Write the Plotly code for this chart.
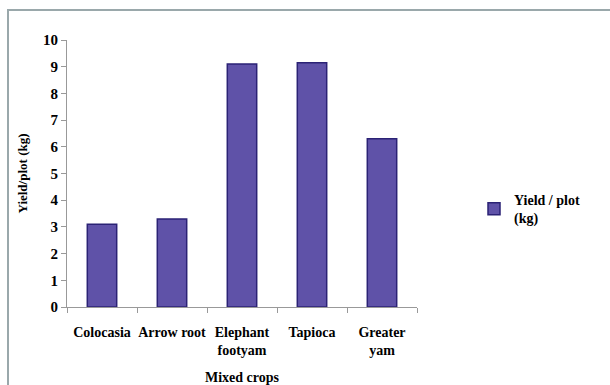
import plotly.graph_objects as go

# Yield per plot for each crop in the mixed-cropping trial
crops = ["Colocasia", "Arrow root", "Elephant<br>footyam", "Tapioca", "Greater<br>yam"]
yield_kg = [3.1, 3.3, 9.1, 9.15, 6.3]
y_ticks = list(range(0, 11))

serif = "Liberation Serif"
W, H = 610, 385
ml, mr, mt, mb = 67, 193, 40, 78
pw, ph = W - ml - mr, H - mt - mb


def bold(s):
    return "<b>" + s.replace("<br>", "</b><br><b>") + "</b>"


fig = go.Figure()
fig.add_trace(go.Bar(
    x=crops,
    y=yield_kg,
    name="<b>Yield / plot</b><br><b>(kg)</b>",
    marker=dict(color="#5f52a8", line=dict(color="#2b2275", width=1.5)),
    width=0.42,
))

# outer chart-area frame (partly clipped by the page edge)
fig.add_shape(
    type="rect", xref="paper", yref="paper",
    x0=(8 - ml) / pw, x1=(W + 6 - ml) / pw,
    y0=(H - mb - (H + 6)) / ph, y1=(H - mb - 10) / ph,
    line=dict(color="#9aa8ab", width=2), fillcolor="rgba(0,0,0,0)",
    layer="below",
)

fig.update_layout(
    width=W, height=H,
    margin=dict(l=ml, r=mr, t=mt, b=mb, autoexpand=False),
    paper_bgcolor="white", plot_bgcolor="white",
    font=dict(family=serif, size=14, color="black"),
    showlegend=True,
    legend=dict(
        x=(474 - ml) / pw, y=(H - mb - 184) / ph,
        xanchor="left", yanchor="top",
        font=dict(family=serif, size=14, color="black"),
        itemwidth=30,
    ),
    xaxis=dict(
        type="category",
        tickvals=crops, ticktext=[bold(c) for c in crops],
        showline=True, linecolor="#999999", linewidth=1,
        ticks="outside", tickson="boundaries", ticklen=5, tickcolor="#999999",
        ticklabelstandoff=12, tickangle=0, automargin=False,
        tickfont=dict(family=serif, size=14, color="black"),
        title=dict(text="<b>Mixed crops</b>", font=dict(family=serif, size=14), standoff=17),
        showgrid=False,
    ),
    yaxis=dict(
        range=[0, 10], tickvals=y_ticks, ticktext=[bold(str(v)) for v in y_ticks],
        showline=True, linecolor="#999999", linewidth=1,
        ticks="outside", ticklen=5, tickcolor="#999999", automargin=False,
        tickfont=dict(family=serif, size=15, color="black"),
        title=dict(text="<b>Yield/plot (kg)</b>", font=dict(family=serif, size=13), standoff=12),
        showgrid=False, zeroline=False,
    ),
)

fig.write_html("out.html")
